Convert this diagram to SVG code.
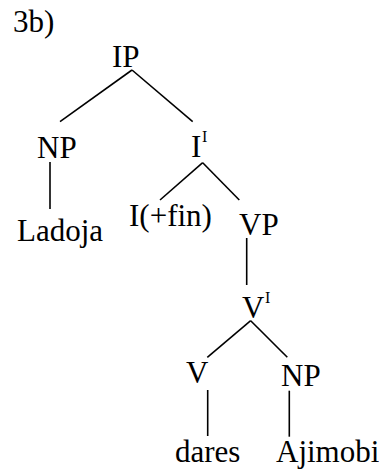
<svg xmlns="http://www.w3.org/2000/svg" width="379" height="470" viewBox="0 0 379 470">
  <style>
    text { font-family: 'Liberation Serif', 'Times New Roman', serif; font-size: 31px; fill: #000; }
    text.sup { font-size: 16px; }
    #edges line { stroke: #000; stroke-width: 1.6; stroke-linecap: butt; }
  </style>
  <rect width="379" height="470" fill="#fff"/>

  <text x="13" y="32">3b)</text>

  <!-- connectors -->
  <g id="edges">
    <line x1="132" y1="70" x2="60" y2="121.7"/>
    <line x1="132" y1="70" x2="192.7" y2="121.7"/>
    <line x1="50" y1="162" x2="50" y2="209"/>
    <line x1="202.7" y1="162.7" x2="160" y2="200"/>
    <line x1="202.7" y1="162.7" x2="239.3" y2="200"/>
    <line x1="246.7" y1="238" x2="246.7" y2="285"/>
    <line x1="250.7" y1="320.7" x2="207.3" y2="357.3"/>
    <line x1="250.7" y1="320.7" x2="287.3" y2="357.3"/>
    <line x1="207.7" y1="390" x2="207.7" y2="436"/>
    <line x1="289.3" y1="390.7" x2="289.3" y2="436.7"/>
  </g>

  <!-- nodes -->
  <g id="IP"><text x="112" y="67">IP</text></g>
  <g id="NP-subj"><text x="37" y="158">NP</text></g>
  <g id="I-bar"><text x="191" y="157">I</text><text class="sup" x="202" y="142">I</text></g>
  <g id="Ladoja"><text x="17" y="241">Ladoja</text></g>
  <g id="I-fin"><text x="129" y="226">I(+fin)</text></g>
  <g id="VP"><text x="239" y="235">VP</text></g>
  <g id="V-bar"><text x="242" y="318">V</text><text class="sup" x="265" y="303">I</text></g>
  <g id="V"><text x="186" y="383">V</text></g>
  <g id="NP-obj"><text x="281" y="386">NP</text></g>
  <g id="dares"><text x="175" y="462">dares</text></g>
  <g id="Ajimobi"><text x="276" y="462">Ajimobi</text></g>
</svg>
